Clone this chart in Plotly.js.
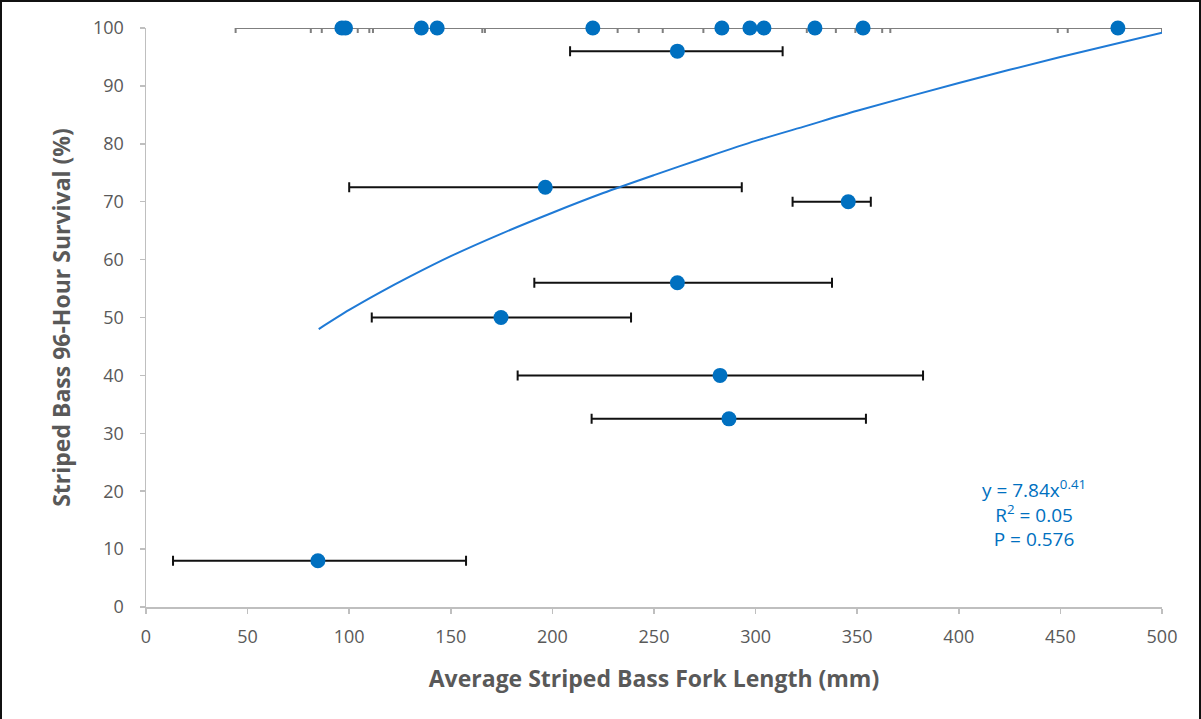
<!DOCTYPE html>
<html>
<head>
<meta charset="utf-8">
<script src="https://cdn.plot.ly/plotly-3.0.1.min.js"></script>
<style>
html, body { margin: 0; padding: 0; background: #fff; }
#frame { position: absolute; left: 0; top: 0; width: 1201px; height: 719px; box-sizing: border-box;
         border-left: 2px solid #111; border-top: 2px solid #111; border-right: 2px solid #111; }
#chart { width: 1197px; height: 717px; }
</style>
</head>
<body>
<div id="frame"><div id="chart"></div></div>
<script>
// Average fork length (mm) per test and 96-hour survival (%)
const forkLength = [96.4, 98.2, 135.5, 143.3, 219.9, 283.4, 297.2, 304.1, 329.2, 352.9, 478.3,
                    261.5, 196.5, 345.6, 261.5, 174.7, 282.5, 286.9, 84.6];
const survival   = [100, 100, 100, 100, 100, 100, 100, 100, 100, 100, 100,
                    96, 72.5, 70, 56, 50, 40, 32.5, 8];
const errMinus   = [15.3, 11.7, 31.3, 99.2, 54.4, 65.7, 65.1, 49.8, 4, 13.4, 29.6,
                    52.8, 96.5, 27.4, 70.4, 63.6, 99.6, 67.6, 71.3];
const errPlus    = [15.3, 11.7, 31.3, 99.2, 54.4, 65.7, 65.1, 49.8, 124.4, 13.4, 21.7,
                    51.8, 96.7, 11.1, 76.1, 64.0, 99.9, 67.4, 72.9];

// Power trend line (y = 7.84x^0.41)
const trendX = [85, 100, 115, 130, 150, 175, 200, 225, 250, 275, 300, 325, 350, 400, 450, 500];
const trendY = [48.0, 51.3, 54.3, 57.1, 60.6, 64.5, 68.1, 71.5, 74.6, 77.6, 80.5, 83.1, 85.7, 90.5, 95.0, 99.2];

const xTicks = [0, 50, 100, 150, 200, 250, 300, 350, 400, 450, 500];
const yTicks = [0, 10, 20, 30, 40, 50, 60, 70, 80, 90, 100];

const pick = (arr, cond) => arr.filter((_, i) => cond(survival[i]));
const isTop = v => v >= 100, notTop = v => v < 100;

const blue = '#0070C0';
function pointTrace(cond, barColor) {
  return {
    type: 'scatter', mode: 'markers', cliponaxis: false, showlegend: false,
    x: pick(forkLength, cond), y: pick(survival, cond),
    marker: { color: blue, size: 15 },
    error_x: { type: 'data', symmetric: false, array: pick(errPlus, cond), arrayminus: pick(errMinus, cond),
               color: barColor, thickness: 2, width: 5 },
    hoverinfo: 'x+y'
  };
}

const data = [
  pointTrace(isTop, '#7f7f7f'),
  pointTrace(notTop, '#111111'),
  { type: 'scatter', mode: 'lines', x: trendX, y: trendY, showlegend: false,
    line: { color: '#1f7ad6', width: 2, shape: 'spline', smoothing: 0.8 }, hoverinfo: 'skip' }
];

const layout = {
  width: 1197, height: 717,
  margin: { l: 144, r: 37, t: 26, b: 112 },
  paper_bgcolor: '#ffffff', plot_bgcolor: '#ffffff',
  showlegend: false,
  xaxis: {
    range: [0, 500], tickvals: xTicks, ticktext: xTicks.map(String),
    showgrid: false, zeroline: false, showline: true, linecolor: '#bfbfbf', linewidth: 1.5,
    ticks: 'outside', ticklen: 5, tickcolor: '#bfbfbf', tickwidth: 1.5, ticklabelstandoff: 8,
    tickfont: { family: 'Open Sans, sans-serif', size: 18, color: '#595959' },
    title: { text: '<b>Average Striped Bass Fork Length (mm)</b>', standoff: 24,
             font: { family: 'Open Sans, sans-serif', size: 23, color: '#595959' } }
  },
  yaxis: {
    range: [0, 100], tickvals: yTicks, ticktext: yTicks.map(String),
    showgrid: false, zeroline: false, showline: true, linecolor: '#bfbfbf', linewidth: 1.5,
    ticks: 'outside', ticklen: 5, tickcolor: '#bfbfbf', tickwidth: 1.5, ticklabelstandoff: 12,
    tickfont: { family: 'Open Sans, sans-serif', size: 18, color: '#595959' },
    title: { text: '<b>Striped Bass 96-Hour Survival (%)</b>', standoff: 16,
             font: { family: 'Open Sans, sans-serif', size: 23, color: '#595959' } }
  },
  annotations: [{
    xref: 'x', yref: 'y', x: 437, y: 16.2, xanchor: 'center', yanchor: 'middle', showarrow: false,
    align: 'center',
    text: 'y = 7.84x<sup>0.41</sup><br>R<sup>2</sup> = 0.05<br>P = 0.576',
    font: { family: 'Open Sans, sans-serif', size: 19, color: blue }
  }]
};

Plotly.newPlot('chart', data, layout, { displayModeBar: false, staticPlot: true });
</script>
</body>
</html>
